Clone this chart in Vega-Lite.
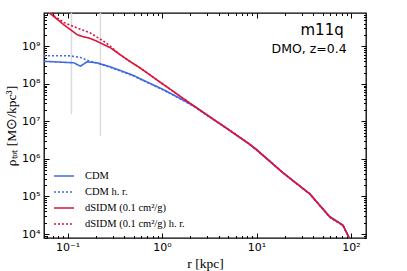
{
  "$schema": "https://vega.github.io/schema/vega-lite/v6.json",
  "width": 322,
  "height": 225,
  "autosize": {"type": "none"},
  "padding": {"left": 44, "top": 13, "right": 41, "bottom": 33},
  "background": "white",
  "config": {
    "view": {"stroke": "black", "strokeWidth": 1.3},
    "axis": {"domain": false, "grid": false, "tickColor": "black", "tickWidth": 1, "labelColor": "black", "titleColor": "black", "labelFlush": false, "labelOverlap": false}
  },
  "datasets": {
    "curves": [
      {"series": "CDM", "r": 0.0564, "rho": 3.98e8},
      {"series": "CDM", "r": 0.1164, "rho": 3.63e8},
      {"series": "CDM", "r": 0.1371, "rho": 2.95e8},
      {"series": "CDM", "r": 0.1607, "rho": 3.85e8},
      {"series": "CDM", "r": 0.2051, "rho": 3.63e8},
      {"series": "CDM", "r": 0.2844, "rho": 2.82e8},
      {"series": "CDM", "r": 0.3936, "rho": 2.09e8},
      {"series": "CDM", "r": 0.5023, "rho": 1.66e8},
      {"series": "CDM", "r": 0.5808, "rho": 1.38e8},
      {"series": "CDM", "r": 1.026, "rho": 7.08e7},
      {"series": "CDM", "r": 1.585, "rho": 3.98e7},
      {"series": "CDM", "r": 2.312, "rho": 2.34e7},
      {"series": "CDM", "r": 3.162, "rho": 1.35e7},
      {"series": "CDM", "r": 5.2, "rho": 5.75e6},
      {"series": "CDM", "r": 8.47, "rho": 2.45e6},
      {"series": "CDM", "r": 10.0, "rho": 1.8e6},
      {"series": "CDM", "r": 19.05, "rho": 4.27e5},
      {"series": "CDM", "r": 36.56, "rho": 1.175e5},
      {"series": "CDM", "r": 59.57, "rho": 2.95e4},
      {"series": "CDM", "r": 82.22, "rho": 1.70e4},
      {"series": "CDM", "r": 92.9, "rho": 9.12e3},
      {"series": "CDM", "r": 96.6, "rho": 7.08e3},
      {"series": "CDM h. r.", "r": 0.0564, "rho": 5.62e8},
      {"series": "CDM h. r.", "r": 0.1072, "rho": 5.56e8},
      {"series": "CDM h. r.", "r": 0.1371, "rho": 5.01e8},
      {"series": "CDM h. r.", "r": 0.1607, "rho": 4.27e8},
      {"series": "CDM h. r.", "r": 0.1738, "rho": 3.98e8},
      {"series": "CDM h. r.", "r": 0.2051, "rho": 3.58e8},
      {"series": "CDM h. r.", "r": 0.2844, "rho": 2.75e8},
      {"series": "CDM h. r.", "r": 0.3936, "rho": 2.04e8},
      {"series": "CDM h. r.", "r": 0.5023, "rho": 1.62e8},
      {"series": "CDM h. r.", "r": 0.5808, "rho": 1.35e8},
      {"series": "CDM h. r.", "r": 1.026, "rho": 6.9e7},
      {"series": "CDM h. r.", "r": 1.585, "rho": 3.9e7},
      {"series": "CDM h. r.", "r": 2.312, "rho": 2.3e7},
      {"series": "CDM h. r.", "r": 3.162, "rho": 1.34e7},
      {"series": "CDM h. r.", "r": 5.2, "rho": 5.75e6},
      {"series": "CDM h. r.", "r": 8.47, "rho": 2.45e6},
      {"series": "CDM h. r.", "r": 10.0, "rho": 1.76e6},
      {"series": "CDM h. r.", "r": 19.05, "rho": 4.27e5},
      {"series": "CDM h. r.", "r": 36.56, "rho": 1.175e5},
      {"series": "CDM h. r.", "r": 59.57, "rho": 2.85e4},
      {"series": "CDM h. r.", "r": 82.22, "rho": 1.70e4},
      {"series": "CDM h. r.", "r": 92.9, "rho": 9.12e3},
      {"series": "CDM h. r.", "r": 96.6, "rho": 7.08e3},
      {"series": "dSIDM (0.1 cm²/g)", "r": 0.0564, "rho": 1.0e10},
      {"series": "dSIDM (0.1 cm²/g)", "r": 0.0659, "rho": 7.36e9},
      {"series": "dSIDM (0.1 cm²/g)", "r": 0.0912, "rho": 3.77e9},
      {"series": "dSIDM (0.1 cm²/g)", "r": 0.1262, "rho": 2.04e9},
      {"series": "dSIDM (0.1 cm²/g)", "r": 0.1483, "rho": 1.77e9},
      {"series": "dSIDM (0.1 cm²/g)", "r": 0.1675, "rho": 1.67e9},
      {"series": "dSIDM (0.1 cm²/g)", "r": 0.2051, "rho": 1.36e9},
      {"series": "dSIDM (0.1 cm²/g)", "r": 0.2844, "rho": 9.08e8},
      {"series": "dSIDM (0.1 cm²/g)", "r": 0.455, "rho": 3.98e8},
      {"series": "dSIDM (0.1 cm²/g)", "r": 0.5808, "rho": 2.69e8},
      {"series": "dSIDM (0.1 cm²/g)", "r": 1.0, "rho": 1.02e8},
      {"series": "dSIDM (0.1 cm²/g)", "r": 2.506, "rho": 2.0e7},
      {"series": "dSIDM (0.1 cm²/g)", "r": 5.2, "rho": 5.75e6},
      {"series": "dSIDM (0.1 cm²/g)", "r": 8.47, "rho": 2.45e6},
      {"series": "dSIDM (0.1 cm²/g)", "r": 10.0, "rho": 1.74e6},
      {"series": "dSIDM (0.1 cm²/g)", "r": 19.05, "rho": 4.27e5},
      {"series": "dSIDM (0.1 cm²/g)", "r": 36.56, "rho": 1.175e5},
      {"series": "dSIDM (0.1 cm²/g)", "r": 59.57, "rho": 2.82e4},
      {"series": "dSIDM (0.1 cm²/g)", "r": 82.22, "rho": 1.70e4},
      {"series": "dSIDM (0.1 cm²/g)", "r": 92.9, "rho": 9.12e3},
      {"series": "dSIDM (0.1 cm²/g)", "r": 96.6, "rho": 7.08e3},
      {"series": "dSIDM (0.1 cm²/g) h. r.", "r": 0.0564, "rho": 1.0e10},
      {"series": "dSIDM (0.1 cm²/g) h. r.", "r": 0.0659, "rho": 7.5e9},
      {"series": "dSIDM (0.1 cm²/g) h. r.", "r": 0.0912, "rho": 4.33e9},
      {"series": "dSIDM (0.1 cm²/g) h. r.", "r": 0.1262, "rho": 3.08e9},
      {"series": "dSIDM (0.1 cm²/g) h. r.", "r": 0.1746, "rho": 2.26e9},
      {"series": "dSIDM (0.1 cm²/g) h. r.", "r": 0.2415, "rho": 1.36e9},
      {"series": "dSIDM (0.1 cm²/g) h. r.", "r": 0.2844, "rho": 1.0e9},
      {"series": "dSIDM (0.1 cm²/g) h. r.", "r": 0.3548, "rho": 6.1e8},
      {"series": "dSIDM (0.1 cm²/g) h. r.", "r": 0.455, "rho": 3.98e8},
      {"series": "dSIDM (0.1 cm²/g) h. r.", "r": 0.5808, "rho": 2.69e8},
      {"series": "dSIDM (0.1 cm²/g) h. r.", "r": 1.0, "rho": 1.02e8},
      {"series": "dSIDM (0.1 cm²/g) h. r.", "r": 2.506, "rho": 2.0e7},
      {"series": "dSIDM (0.1 cm²/g) h. r.", "r": 5.2, "rho": 5.75e6},
      {"series": "dSIDM (0.1 cm²/g) h. r.", "r": 8.47, "rho": 2.45e6},
      {"series": "dSIDM (0.1 cm²/g) h. r.", "r": 10.0, "rho": 1.74e6},
      {"series": "dSIDM (0.1 cm²/g) h. r.", "r": 19.05, "rho": 4.27e5},
      {"series": "dSIDM (0.1 cm²/g) h. r.", "r": 36.56, "rho": 1.175e5},
      {"series": "dSIDM (0.1 cm²/g) h. r.", "r": 59.57, "rho": 2.82e4},
      {"series": "dSIDM (0.1 cm²/g) h. r.", "r": 82.22, "rho": 1.70e4},
      {"series": "dSIDM (0.1 cm²/g) h. r.", "r": 92.9, "rho": 9.12e3},
      {"series": "dSIDM (0.1 cm²/g) h. r.", "r": 96.6, "rho": 7.08e3}
    ],
    "rules": [
      {"r": 0.11, "lo": 1.55e7, "hi": 7.69e9},
      {"r": 0.223, "lo": 4.0e6, "hi": 7.69e9}
    ],
    "notes": [
      {"label": "m11q", "r": 83.7, "rho": 2.04e9, "size": "big"},
      {"label": "DMO, z=0.4", "r": 90, "rho": 6.8e8, "size": "small"}
    ]
  },
  "layer": [
    {
      "data": {"name": "rules"},
      "mark": {"type": "rule", "color": "#dcdcdc", "strokeWidth": 1.5, "clip": true},
      "encoding": {
        "x": {"field": "r", "type": "quantitative", "scale": {"type": "log", "domain": [0.0564, 144], "nice": false},
          "axis": {"orient": "bottom",
            "values": [0.06,0.07,0.08,0.09,0.1,0.2,0.3,0.4,0.5,0.6,0.7,0.8,0.9,1,2,3,4,5,6,7,8,9,10,20,30,40,50,60,70,80,90,100],
            "labelExpr": "datum.value == 0.1 ? '10⁻¹' : datum.value == 1 ? '10⁰' : datum.value == 10 ? '10¹' : datum.value == 100 ? '10²' : ''",
            "tickSize": {"condition": {"test": "abs(log(datum.value)/LN10 - round(log(datum.value)/LN10)) < 0.001", "value": -5}, "value": -2.5},
            "labelFont": "DejaVu Sans", "labelFontSize": 11, "labelPadding": 8,
            "title": "r [kpc]", "titleFont": "Liberation Serif", "titleFontSize": 13.5, "titleFontWeight": "normal", "titlePadding": 2}},
        "y": {"field": "lo", "type": "quantitative", "scale": {"type": "log", "domain": [7834, 7.69e9], "nice": false},
          "axis": {"orient": "left",
            "values": [8000,9000,10000,20000,30000,40000,50000,60000,70000,80000,90000,100000,200000,300000,400000,500000,600000,700000,800000,900000,1000000,2000000,3000000,4000000,5000000,6000000,7000000,8000000,9000000,10000000,20000000,30000000,40000000,50000000,60000000,70000000,80000000,90000000,100000000,200000000,300000000,400000000,500000000,600000000,700000000,800000000,900000000,1000000000,2000000000,3000000000,4000000000,5000000000,6000000000,7000000000],
            "labelExpr": "datum.value == 10000 ? '10⁴' : datum.value == 100000 ? '10⁵' : datum.value == 1000000 ? '10⁶' : datum.value == 10000000 ? '10⁷' : datum.value == 100000000 ? '10⁸' : datum.value == 1000000000 ? '10⁹' : ''",
            "tickSize": {"condition": {"test": "abs(log(datum.value)/LN10 - round(log(datum.value)/LN10)) < 0.001", "value": -5}, "value": -2.5},
            "labelFont": "DejaVu Sans", "labelFontSize": 11, "labelPadding": 9,
            "title": "ρₜₒₜ [M⊙/kpc³]", "titleFont": "Liberation Serif", "titleFontSize": 13.5, "titleFontWeight": "normal", "titlePadding": 3}},
        "y2": {"field": "hi"}
      }
    },
    {
      "data": {"name": "curves"},
      "mark": {"type": "line", "strokeWidth": 1.6, "clip": true},
      "encoding": {
        "x": {"field": "r", "type": "quantitative", "scale": {"type": "log", "domain": [0.0564, 144], "nice": false}, "axis": null},
        "y": {"field": "rho", "type": "quantitative", "scale": {"type": "log", "domain": [7834, 7.69e9], "nice": false}, "axis": null},
        "color": {"field": "series", "type": "nominal",
          "scale": {"domain": ["CDM", "CDM h. r.", "dSIDM (0.1 cm²/g)", "dSIDM (0.1 cm²/g) h. r."], "range": ["#4169e1", "#4169e1", "#dc143c", "#dc143c"]},
          "legend": {"orient": "none", "legendX": 14, "legendY": 157, "title": null, "symbolType": "M-2,0H2", "symbolSize": 100, "symbolStrokeWidth": 1.6, "labelFont": "Liberation Serif", "labelFontSize": 10.5, "labelColor": "black", "rowPadding": 4, "labelOffset": 15, "padding": 0}},
        "strokeDash": {"field": "series", "type": "nominal",
          "scale": {"domain": ["CDM", "CDM h. r.", "dSIDM (0.1 cm²/g)", "dSIDM (0.1 cm²/g) h. r."], "range": [[1, 0], [2, 2], [1, 0], [2, 2]]},
          "legend": {"orient": "none", "legendX": 14, "legendY": 157, "title": null, "symbolType": "M-2,0H2", "symbolSize": 100, "symbolStrokeWidth": 1.6, "labelFont": "Liberation Serif", "labelFontSize": 10.5, "labelColor": "black", "rowPadding": 4, "labelOffset": 15, "padding": 0}}
      }
    },
    {
      "data": {"name": "notes"},
      "mark": {"type": "text", "align": "right", "baseline": "alphabetic", "font": "DejaVu Sans", "color": "black"},
      "encoding": {
        "x": {"field": "r", "type": "quantitative", "scale": {"type": "log", "domain": [0.0564, 144], "nice": false},
          "axis": {"orient": "top", "labels": false, "title": null,
            "values": [0.06,0.07,0.08,0.09,0.1,0.2,0.3,0.4,0.5,0.6,0.7,0.8,0.9,1,2,3,4,5,6,7,8,9,10,20,30,40,50,60,70,80,90,100],
            "tickSize": {"condition": {"test": "abs(log(datum.value)/LN10 - round(log(datum.value)/LN10)) < 0.001", "value": -5}, "value": -2.5}}},
        "y": {"field": "rho", "type": "quantitative", "scale": {"type": "log", "domain": [7834, 7.69e9], "nice": false},
          "axis": {"orient": "right", "labels": false, "title": null,
            "values": [8000,9000,10000,20000,30000,40000,50000,60000,70000,80000,90000,100000,200000,300000,400000,500000,600000,700000,800000,900000,1000000,2000000,3000000,4000000,5000000,6000000,7000000,8000000,9000000,10000000,20000000,30000000,40000000,50000000,60000000,70000000,80000000,90000000,100000000,200000000,300000000,400000000,500000000,600000000,700000000,800000000,900000000,1000000000,2000000000,3000000000,4000000000,5000000000,6000000000,7000000000],
            "tickSize": {"condition": {"test": "abs(log(datum.value)/LN10 - round(log(datum.value)/LN10)) < 0.001", "value": -5}, "value": -2.5}}},
        "text": {"field": "label", "type": "nominal"},
        "size": {"field": "size", "type": "nominal", "scale": {"domain": ["big", "small"], "range": [15, 12.5]}, "legend": null}
      }
    }
  ],
  "resolve": {"axis": {"x": "independent", "y": "independent"}}
}
